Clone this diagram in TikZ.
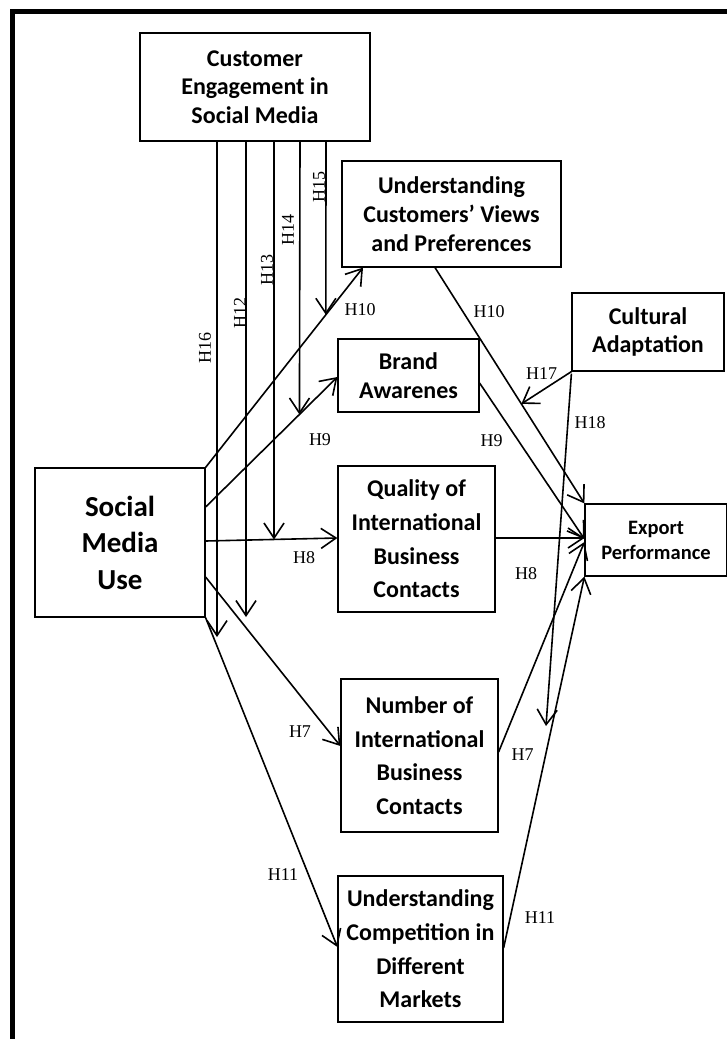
\documentclass[tikz,border=0pt]{standalone}
\usepackage{fontspec}
\setmainfont{Liberation Serif}
\newfontfamily\boxfont{Carlito}
\usetikzlibrary{arrows.meta,calc}

\begin{document}
\begin{tikzpicture}[x=1pt,y=-1pt,
  box/.style={draw,line width=1.2pt,inner sep=0pt,align=center,
    font=\boxfont\bfseries\fontsize{24}{28.7}\selectfont},
  wide/.style={font=\boxfont\bfseries\fontsize{24}{33.6}\selectfont},
  link/.style={line width=1.6pt,-{Straight Barb[length=15pt,width=20pt]}},
  plain/.style={line width=1.6pt},
  hyp/.style={font=\fontsize{18}{20}\selectfont,inner sep=0pt},
]
\useasboundingbox (0,0) rectangle (727,1039);

% outer frame
\begin{scope}
  \clip (0,0) rectangle (727,1039);
  \draw[line width=5pt] (12.5,1060) -- (12.5,11) -- (760,11);
\end{scope}

% constructs
\node[box,minimum width=230pt,minimum height=108pt] (ce) at (255,87)
  {Customer\\Engagement in\\Social Media};
\node[box,minimum width=219pt,minimum height=106pt] (uc) at (451.5,214)
  {Understanding\\Customers’ Views\\and Preferences};
\node[box,minimum width=152pt,minimum height=78pt] (ca) at (648,332)
  {Cultural\\Adaptation};
\node[box,minimum width=141pt,minimum height=73pt] (ba) at (408.5,375.5)
  {Brand\\Awarenes};
\node[box,minimum width=170pt,minimum height=149pt,
  font=\boxfont\bfseries\fontsize{29}{36.5}\selectfont] (smu) at (120,542.5)
  {Social\\Media\\Use};
\node[box,wide,minimum width=157pt,minimum height=146pt] (q) at (416.5,539)
  {Quality of\\International\\Business\\Contacts};
\node[box,minimum width=142pt,minimum height=72pt,
  font=\boxfont\bfseries\fontsize{20.5}{25}\selectfont] (ep) at (656,540)
  {Export\\Performance};
\node[box,wide,minimum width=157pt,minimum height=153pt] (n) at (419.5,755.5)
  {Number of\\International\\Business\\Contacts};
\node[box,wide,minimum width=165pt,minimum height=146pt] (cm) at (420.5,949)
  {Understanding\\Competition in\\Different\\Markets};

% social media use -> mediators
\draw[link] (smu.north east) -- (uc.south -| 363,0);
\draw[link] (smu.east |- 0,507) -- (ba.west |- 0,377);
\draw[link] (smu.east |- 0,541) -- (q.west |- 0,538);
\draw[link] (smu.east |- 0,577) -- (n.west |- 0,746);
\draw[link] (smu.south east) -- (cm.west |- 0,947);

% mediators -> export performance
\draw[link] (uc.south -| 435,0) -- (ep.north west);
\draw[link] (ba.east |- 0,383) -- (ep.west |- 0,539);
\draw[link] (q.east |- 0,538) -- (ep.west |- 0,538);
\draw[link] (n.east |- 0,752) -- (ep.west |- 0,542);
\draw[link] (cm.east |- 0,948) -- (ep.south west);

% moderation by customer engagement
\coordinate (j15) at ($(smu.north east)!0.764!(uc.south -| 363,0)$);
\coordinate (j14) at ($(smu.east |- 0,507)!0.712!(ba.west |- 0,377)$);
\coordinate (j13) at (274,539.5);
\coordinate (e12) at (246,617);
\coordinate (e16) at (217,637);
\draw[link] (ce.south -| 326,0) -- (j15);
\draw[link] (ce.south -| 300,0) -- (j14);
\draw[link] (ce.south -| 274,0) -- (j13);
\draw[link] (ce.south -| 246,0) -- (e12);
\draw[link] (ce.south -| 217,0) -- (e16);

% moderation by cultural adaptation
\coordinate (j17) at ($(uc.south -| 435,0)!0.578!(ep.north west)$);
\coordinate (e18) at (546,726);
\draw[link] (ca.south west) -- (j17);
\draw[link] ([yshift=-2pt]ca.south west) -- (e18);

% hypothesis labels
\node[hyp,rotate=90] (h15) at (319,187) {H15};
\node[hyp,rotate=90] (h14) at (288,230) {H14};
\node[hyp,rotate=90] (h13) at (267,270) {H13};
\node[hyp,rotate=90] (h12) at (240,313) {H12};
\node[hyp,rotate=90] (h16) at (205,348) {H16};
\node[hyp] (h10a) at (360,310) {H10};
\node[hyp] (h10b) at (489,312) {H10};
\node[hyp] (h9a) at (320,440) {H9};
\node[hyp] (h9b) at (491.5,441) {H9};
\node[hyp] (h8a) at (304,558) {H8};
\node[hyp] (h8b) at (526,574) {H8};
\node[hyp] (h7a) at (300,732) {H7};
\node[hyp] (h7b) at (522.5,755) {H7};
\node[hyp] (h11a) at (283,875) {H11};
\node[hyp] (h11b) at (540,918) {H11};
\node[hyp] (h17) at (541.7,374) {H17};
\node[hyp] (h18) at (590,423) {H18};
\end{tikzpicture}
\end{document}
